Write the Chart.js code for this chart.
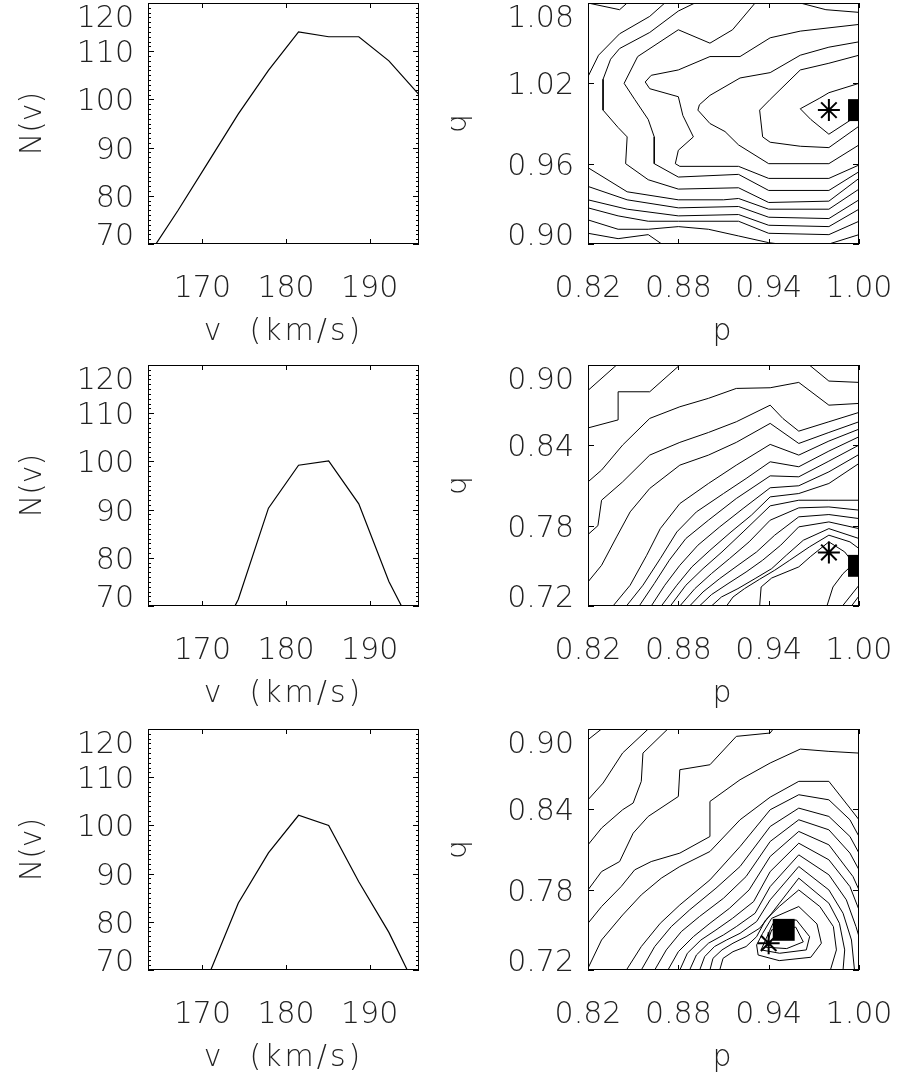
<!DOCTYPE html>
<html>
<head>
<meta charset="utf-8">
<script src="https://cdn.jsdelivr.net/npm/chart.js@4.4.1/dist/chart.umd.min.js"></script>
<style>
  html, body { margin: 0; padding: 0; background: #fff; overflow: hidden; }
  #page { position: relative; width: 902px; height: 1078px; }
  canvas { position: absolute; }
</style>
</head>
<body>
<div id="page"></div>
<script>
// velocity grid (km/s) shared by the three left panels
const VEL = [163.5, 167.1, 170.7, 174.3, 177.9, 181.5, 185.1, 188.7, 192.3, 195.9];
const N_TOP = [67.5, 77, 87, 97, 106, 114, 113, 113, 108, 101];
const N_MID = [null, null, 59, 71.4, 90.3, 99.2, 100.1, 91.2, 75.1, 62.9];
const N_BOT = [null, null, 68.7, 83.9, 94.3, 102.1, 100.0, 88.3, 77.8, 65.0];

const V_TICKS = [170, 180, 190];
const N_TICKS = [70, 80, 90, 100, 110, 120];
const P_TICKS = [0.82, 0.88, 0.94, 1.00];
const Q_TICKS_TOP = [0.90, 0.96, 1.02, 1.08];
const Q_TICKS_LOW = [0.72, 0.78, 0.84, 0.90];

// best fit (star) and true value (square) in the p-q plane
const STAR_TOP = [0.98, 1.00], SQUARE_TOP = [1.00, 1.00];
const STAR_MID = [0.98, 0.76], SQUARE_MID = [1.00, 0.75];
const STAR_BOT = [0.94, 0.74], SQUARE_BOT = [0.95, 0.75];

// contour lines, [p, q] vertices
const CONTOURS_TOP = [
  [[0.82,1.08],[0.841,1.075],[0.846,1.08]],
  [[0.82,1.025],[0.827,1.041],[0.841,1.057],[0.861,1.070],[0.871,1.08]],
  [[0.891,1.08],[0.880,1.074],[0.861,1.058],[0.841,1.046],[0.835,1.038],[0.830,1.023],[0.830,1.008],[0.830,1.000],[0.840,0.987],[0.846,0.980],[0.845,0.960],[0.860,0.948],[0.880,0.941],[0.920,0.942],[0.940,0.931],[0.980,0.932],[1.000,0.949]],
  [[0.931,1.08],[0.916,1.060],[0.901,1.050],[0.880,1.060],[0.853,1.040],[0.844,1.020],[0.851,1.008],[0.860,0.993],[0.864,0.980],[0.864,0.960],[0.880,0.950],[0.920,0.952],[0.940,0.940],[0.980,0.940],[1.000,0.954]],
  [[1.0,1.064],[0.961,1.059],[0.941,1.054],[0.921,1.040],[0.901,1.040],[0.880,1.030],[0.862,1.026],[0.858,1.021],[0.861,1.016],[0.880,1.010],[0.883,0.996],[0.890,0.980],[0.880,0.970],[0.878,0.960],[0.881,0.958],[0.920,0.958],[0.940,0.949],[0.980,0.949],[1.0,0.959]],
  [[1.0,1.051],[0.98,1.047],[0.961,1.041],[0.941,1.028],[0.921,1.024],[0.901,1.011],[0.894,1.004],[0.893,1.0],[0.901,0.990],[0.911,0.984],[0.920,0.974],[0.940,0.960],[0.980,0.960],[1.0,0.974]],
  [[1.0,1.041],[0.98,1.035],[0.961,1.030],[0.941,1.008],[0.934,1.0],[0.936,0.980],[0.941,0.976],[0.961,0.973],[0.980,0.972],[1.0,0.988]],
  [[1.0,1.020],[0.98,1.013],[0.974,1.009],[0.961,1.001],[0.968,0.993],[0.980,0.982],[0.995,0.993],[1.0,1.0]],
  [[0.961,1.08],[0.978,1.075],[1.0,1.073]],
  [[0.82,0.957],[0.846,0.939],[0.880,0.933],[0.910,0.933],[0.920,0.934],[0.940,0.926],[0.980,0.926],[1.0,0.941]],
  [[0.82,0.943],[0.846,0.933],[0.880,0.927],[0.920,0.928],[0.940,0.920],[0.980,0.919],[1.0,0.933]],
  [[0.82,0.933],[0.846,0.926],[0.880,0.921],[0.920,0.922],[0.940,0.914],[0.980,0.913],[1.0,0.926]],
  [[0.82,0.927],[0.840,0.921],[0.860,0.917],[0.880,0.917],[0.920,0.917],[0.940,0.908],[0.980,0.907],[1.0,0.917]],
  [[0.82,0.918],[0.840,0.911],[0.860,0.911],[0.880,0.913],[0.900,0.911],[0.920,0.906],[0.940,0.901],[0.947,0.90]],
  [[0.82,0.908],[0.840,0.904],[0.860,0.907],[0.869,0.90]],
  [[0.98,0.90],[1.0,0.907]]
];

const CONTOURS_MID = [
  [[0.82,0.881],[0.839,0.90]],
  [[0.82,0.853],[0.84,0.859],[0.84,0.880],[0.861,0.880],[0.881,0.90]],
  [[0.967,0.90],[0.98,0.888],[1.0,0.887]],
  [[0.82,0.8127],[0.829,0.8215],[0.843,0.8402],[0.861,0.8601],[0.881,0.8688],[0.90,0.8751],[0.9185,0.8825],[0.941,0.883],[0.96,0.887],[0.98,0.870],[1.0,0.8713]],
  [[0.82,0.7734],[0.8266,0.780],[0.829,0.799],[0.843,0.8127],[0.861,0.8327],[0.881,0.8422],[0.90,0.8496],[0.9185,0.8576],[0.941,0.870],[0.9495,0.860],[0.96,0.8506],[0.98,0.8576],[1.0,0.8646]],
  [[0.82,0.738],[0.829,0.7504],[0.839,0.7716],[0.848,0.7903],[0.861,0.8078],[0.881,0.8252],[0.90,0.8327],[0.9185,0.8422],[0.941,0.8564],[0.96,0.8414],[0.98,0.8496],[1.0,0.8576]],
  [[0.8366,0.72],[0.848,0.7355],[0.859,0.7579],[0.868,0.7778],[0.881,0.7965],[0.90,0.8115],[0.9185,0.8252],[0.941,0.8407],[0.96,0.8327],[0.98,0.8432],[1.0,0.8521]],
  [[0.8455,0.72],[0.8565,0.7355],[0.868,0.7554],[0.879,0.7753],[0.892,0.7903],[0.91,0.804],[0.925,0.8152],[0.941,0.8277],[0.96,0.824],[0.98,0.8357],[1.0,0.8464]],
  [[0.854,0.72],[0.864,0.7367],[0.874,0.7542],[0.885,0.7704],[0.90,0.7841],[0.9185,0.8003],[0.941,0.8172],[0.96,0.8165],[0.98,0.8282],[1.0,0.8402]],
  [[0.862,0.72],[0.871,0.7355],[0.881,0.7504],[0.893,0.7654],[0.9075,0.7791],[0.923,0.7928],[0.941,0.8083],[0.96,0.8098],[0.98,0.8202],[1.0,0.8332]],
  [[0.8687,0.72],[0.879,0.7355],[0.889,0.7492],[0.901,0.7616],[0.915,0.7753],[0.9285,0.7878],[0.941,0.8015],[0.96,0.804],[0.98,0.8115],[1.0,0.8265]],
  [[0.8747,0.72],[0.885,0.7355],[0.8964,0.7479],[0.909,0.7604],[0.923,0.7753],[0.941,0.7948],[0.96,0.799],[0.98,0.799],[1.0,0.799]],
  [[0.881,0.72],[0.891,0.733],[0.902,0.7442],[0.914,0.7554],[0.927,0.7679],[0.941,0.7841],[0.96,0.7933],[0.98,0.794],[1.0,0.7916]],
  [[0.8875,0.72],[0.8964,0.7305],[0.9075,0.7405],[0.9196,0.7504],[0.932,0.7604],[0.944,0.7729],[0.96,0.7866],[0.98,0.7883],[1.0,0.7853]],
  [[0.894,0.72],[0.902,0.7285],[0.913,0.7367],[0.925,0.7454],[0.936,0.7542],[0.948,0.7654],[0.96,0.7791],[0.98,0.7828],[1.0,0.7778]],
  [[0.902,0.72],[0.9086,0.7267],[0.9196,0.733],[0.931,0.7405],[0.942,0.7479],[0.9517,0.7579],[0.963,0.7691],[0.98,0.7778],[1.0,0.7704]],
  [[0.912,0.72],[0.9163,0.7267],[0.924,0.733],[0.934,0.74],[0.944,0.7467],[0.954,0.7542],[0.967,0.7641],[0.98,0.7729],[0.994,0.7679],[1.0,0.7629]],
  [[0.934,0.72],[0.935,0.7342],[0.942,0.7409],[0.96,0.7492],[0.968,0.7571],[0.98,0.7679],[0.9905,0.7604],[0.9965,0.7517],[0.9894,0.7442],[0.9827,0.7342],[0.9787,0.72]],
  [[1.0,0.7355],[0.989,0.72]],
  [[1.0,0.7275],[0.995,0.72]]
];

const CONTOURS_BOT = [
  [[0.82,0.892],[0.829,0.90]],
  [[0.82,0.8471],[0.83,0.8596],[0.843,0.8821],[0.86,0.90]],
  [[0.82,0.8135],[0.829,0.826],[0.843,0.8397],[0.85,0.8447],[0.8554,0.8609],[0.8565,0.882],[0.873,0.90]],
  [[0.82,0.7798],[0.829,0.7935],[0.841,0.801],[0.85,0.8222],[0.86,0.8347],[0.88,0.8496],[0.881,0.8696],[0.901,0.8733],[0.9185,0.8945],[0.941,0.897],[0.943,0.90]],
  [[0.82,0.7549],[0.829,0.7674],[0.842,0.7823],[0.851,0.7948],[0.862,0.801],[0.881,0.8073],[0.901,0.8197],[0.901,0.8459],[0.921,0.8621],[0.941,0.8746],[0.961,0.885],[0.98,0.8833],[1.0,0.882]],
  [[0.82,0.7213],[0.829,0.7424],[0.843,0.7611],[0.8554,0.7761],[0.8687,0.7886],[0.881,0.7973],[0.901,0.8085],[0.921,0.8322],[0.941,0.8491],[0.96,0.8609],[0.98,0.8609],[0.994,0.8409],[1.0,0.8322]],
  [[0.8455,0.72],[0.8554,0.7375],[0.868,0.7549],[0.881,0.7686],[0.901,0.7873],[0.921,0.8122],[0.941,0.8397],[0.96,0.8509],[0.98,0.8471],[0.994,0.8322],[1.0,0.8197]],
  [[0.8554,0.72],[0.8643,0.7375],[0.8753,0.7524],[0.8875,0.7649],[0.905,0.7811],[0.921,0.7973],[0.941,0.8272],[0.96,0.8409],[0.98,0.8347],[0.994,0.8197],[1.0,0.8073]],
  [[0.8643,0.72],[0.872,0.735],[0.882,0.7487],[0.894,0.7599],[0.91,0.7736],[0.925,0.7898],[0.941,0.816],[0.96,0.8322],[0.98,0.8247],[0.994,0.8073],[1.0,0.7948]],
  [[0.8731,0.72],[0.88,0.7337],[0.89,0.7449],[0.901,0.7549],[0.914,0.7661],[0.927,0.7798],[0.941,0.8048],[0.96,0.8235],[0.98,0.8135],[0.996,0.7898],[1.0,0.7798]],
  [[0.881,0.72],[0.886,0.7325],[0.895,0.7424],[0.905,0.7499],[0.916,0.7586],[0.93,0.7711],[0.941,0.7935],[0.96,0.8147],[0.98,0.8023],[0.994,0.7823],[1.0,0.7649]],
  [[0.8875,0.72],[0.892,0.7312],[0.90,0.74],[0.91,0.7462],[0.9185,0.7524],[0.931,0.7624],[0.941,0.7823],[0.96,0.806],[0.98,0.7911],[0.9916,0.7724],[0.998,0.7524],[1.0,0.7449]],
  [[0.8942,0.72],[0.8975,0.73],[0.904,0.7375],[0.912,0.7424],[0.921,0.7474],[0.932,0.7562],[0.941,0.7724],[0.96,0.7973],[0.98,0.7798],[0.9894,0.7624],[0.995,0.7424],[0.997,0.72]],
  [[0.901,0.72],[0.903,0.7287],[0.909,0.735],[0.9163,0.74],[0.925,0.7449],[0.934,0.7512],[0.942,0.7624],[0.96,0.7886],[0.98,0.7699],[0.987,0.7549],[0.9905,0.735],[0.9894,0.72]],
  [[0.9075,0.72],[0.9097,0.7287],[0.9163,0.7337],[0.925,0.7375],[0.932,0.7449],[0.938,0.7574],[0.947,0.7674],[0.96,0.7798],[0.974,0.7674],[0.983,0.7524],[0.985,0.735],[0.981,0.72]],
  [[0.936,0.7474],[0.942,0.7586],[0.96,0.7674],[0.9721,0.7544],[0.975,0.74],[0.968,0.7295],[0.947,0.727],[0.933,0.7312],[0.932,0.7387],[0.936,0.7474]],
  [[0.9384,0.7437],[0.9429,0.7549],[0.9584,0.7574],[0.9672,0.7449],[0.965,0.735],[0.9473,0.7325],[0.935,0.735],[0.9384,0.7437]],
  [[0.942,0.750],[0.958,0.752],[0.963,0.741],[0.952,0.736],[0.938,0.737],[0.942,0.750]]
];

const FONT = '200 30px "DejaVu Sans"';
const INK = '#222';

// draws the IDL-style frame: box, inward ticks, tick labels and axis titles
const idlFrame = {
  id: 'idlFrame',
  afterDatasetsDraw(chart, args, o) {
    const { ctx, chartArea: a, scales: { x, y } } = chart;
    ctx.save();
    ctx.strokeStyle = '#000';
    ctx.lineWidth = 1;
    ctx.strokeRect(a.left + 0.5, a.top + 0.5, a.right - a.left - 1, a.bottom - a.top - 1);

    ctx.beginPath();
    o.xTicks.forEach(v => {
      const px = Math.round(x.getPixelForValue(v)) + 0.5;
      ctx.moveTo(px, a.bottom); ctx.lineTo(px, a.bottom - 5);
      ctx.moveTo(px, a.top); ctx.lineTo(px, a.top + 5);
    });
    o.yTicks.forEach(v => {
      const py = Math.round(y.getPixelForValue(v)) + 0.5;
      ctx.moveTo(a.left, py); ctx.lineTo(a.left + 6, py);
      ctx.moveTo(a.right, py); ctx.lineTo(a.right - 6, py);
    });
    (o.yMinor || []).forEach(v => {
      const py = Math.round(y.getPixelForValue(v)) + 0.5;
      ctx.moveTo(a.left, py); ctx.lineTo(a.left + 3, py);
      ctx.moveTo(a.right, py); ctx.lineTo(a.right - 3, py);
    });
    ctx.stroke();

    ctx.fillStyle = INK;
    ctx.font = FONT;
    ctx.textBaseline = 'alphabetic';
    ctx.textAlign = 'center';
    o.xTicks.forEach(v => {
      ctx.fillText(o.fmt(v), x.getPixelForValue(v), a.bottom + 53);
    });
    ctx.textAlign = 'right';
    o.yTicks.forEach(v => {
      const py = Math.min(Math.max(y.getPixelForValue(v), a.top + 13), a.bottom - 10);
      ctx.fillText(o.fmt(v), a.left - 14, py + 11);
    });

    ctx.textAlign = 'center';
    ctx.letterSpacing = '3px';
    ctx.fillText(o.xTitle, (a.left + a.right) / 2, a.bottom + 96);
    ctx.letterSpacing = '0px';
    ctx.translate(a.left - o.yTitleGap, (a.top + a.bottom) / 2);
    ctx.rotate(-Math.PI / 2);
    ctx.fillText(o.yTitle, 0, 0);
    ctx.restore();
  }
};

const page = document.getElementById('page');

function makePanel(left, top, pad, scales, datasets, frame) {
  const canvas = document.createElement('canvas');
  canvas.width = 451;
  canvas.height = 352;
  canvas.style.left = left + 'px';
  canvas.style.top = top + 'px';
  page.appendChild(canvas);
  return new Chart(canvas.getContext('2d'), {
    type: 'scatter',
    data: { datasets },
    options: {
      responsive: false,
      animation: false,
      devicePixelRatio: 1,
      events: [],
      layout: { padding: pad, autoPadding: false },
      scales: {
        x: { type: 'linear', display: false, min: scales[0], max: scales[1] },
        y: { type: 'linear', display: false, min: scales[2], max: scales[3] }
      },
      plugins: { legend: { display: false }, tooltip: { enabled: false }, idlFrame: frame }
    },
    plugins: [idlFrame]
  });
}

function lineSet(values) {
  return [{
    data: VEL.map((v, i) => ({ x: v, y: values[i] })),
    showLine: true, borderColor: '#000', borderWidth: 1.2, pointRadius: 0, tension: 0, clip: 0
  }];
}

function contourSet(lines, star, square) {
  const sets = lines.map(line => ({
    data: line.map(([p, q]) => ({ x: p, y: q })),
    showLine: true, borderColor: '#000', borderWidth: 1, pointRadius: 0, tension: 0, clip: 0
  }));
  sets.push({
    data: [{ x: square[0], y: square[1] }],
    pointStyle: 'rect', pointRadius: 15.5, backgroundColor: '#000', borderColor: '#000', borderWidth: 0, clip: 0
  });
  sets.push({
    data: [{ x: star[0], y: star[1] }],
    pointStyle: 'star', pointRadius: 11, borderColor: '#000', borderWidth: 2, backgroundColor: '#000'
  });
  return sets;
}

const LEFT_PAD = { left: 148, right: 32, top: 3, bottom: 108 };
const RIGHT_PAD = { left: 137, right: 43, top: 3, bottom: 108 };
const vFrame = {
  xTicks: V_TICKS, yTicks: N_TICKS,
  yMinor: N_TICKS.slice(0, -1).flatMap(t => [1, 2, 3, 4, 5, 6, 7, 8, 9].map(k => t + k)),
  fmt: v => String(v), xTitle: 'v  (km/s)', yTitle: 'N(v)', yTitleGap: 107
};
const pqFrame = qt => ({
  xTicks: P_TICKS, yTicks: qt,
  fmt: v => v.toFixed(2), xTitle: 'p', yTitle: 'q', yTitleGap: 122
});

const ROWS = [0, 362, 726];
makePanel(0, ROWS[0], LEFT_PAD, [163.5, 195.9, 70, 120], lineSet(N_TOP), vFrame);
makePanel(0, ROWS[1], LEFT_PAD, [163.5, 195.9, 70, 120], lineSet(N_MID), vFrame);
makePanel(0, ROWS[2], LEFT_PAD, [163.5, 195.9, 70, 120], lineSet(N_BOT), vFrame);
makePanel(451, ROWS[0], RIGHT_PAD, [0.82, 1.00, 0.90, 1.08], contourSet(CONTOURS_TOP, STAR_TOP, SQUARE_TOP), pqFrame(Q_TICKS_TOP));
makePanel(451, ROWS[1], RIGHT_PAD, [0.82, 1.00, 0.72, 0.90], contourSet(CONTOURS_MID, STAR_MID, SQUARE_MID), pqFrame(Q_TICKS_LOW));
makePanel(451, ROWS[2], RIGHT_PAD, [0.82, 1.00, 0.72, 0.90], contourSet(CONTOURS_BOT, STAR_BOT, SQUARE_BOT), pqFrame(Q_TICKS_LOW));
</script>
</body>
</html>
